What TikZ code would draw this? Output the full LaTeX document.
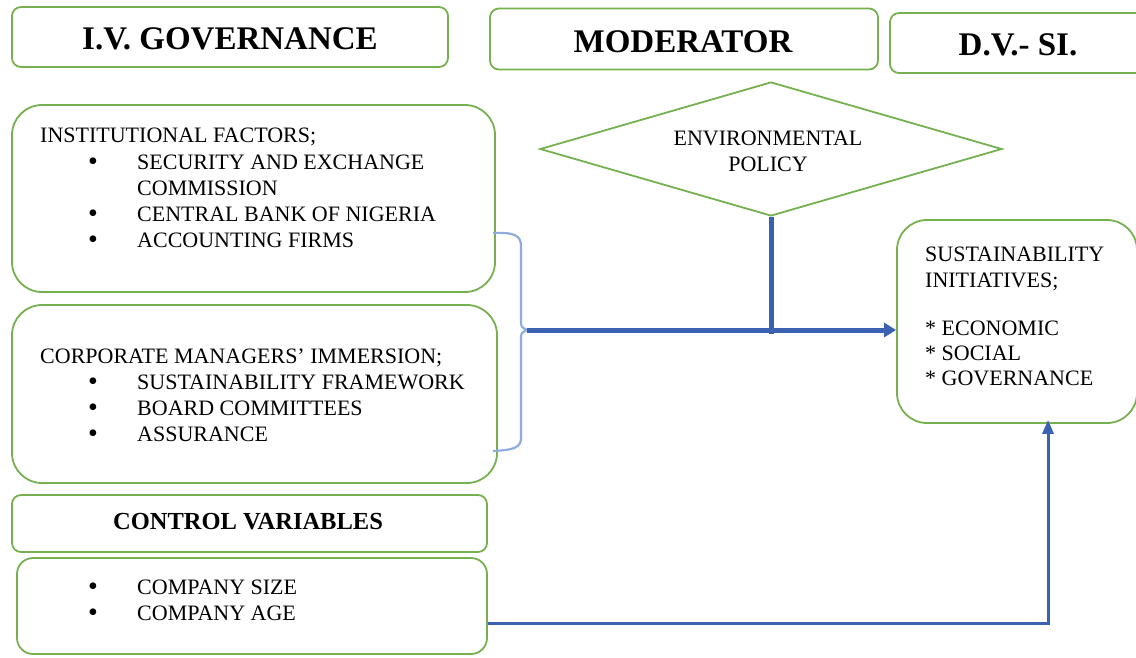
\documentclass[tikz,border=0pt]{standalone}
\usepackage{fontspec}
\setmainfont{Liberation Serif}
\usetikzlibrary{shapes.geometric,arrows.meta}
\definecolor{boxgreen}{RGB}{118,176,80}
\definecolor{flowblue}{RGB}{58,98,176}
\definecolor{braceblue}{RGB}{143,172,222}
\tikzset{
  box/.style={draw=boxgreen, line width=1.8pt, fill=white, inner sep=0pt},
  head/.style={font=\fontsize{33}{36}\selectfont\bfseries, inner sep=0pt},
  subhead/.style={font=\fontsize{24.5}{28}\selectfont\bfseries, inner sep=0pt},
  txt/.style={font=\fontsize{22}{26}\selectfont, inner sep=0pt, anchor=base west},
  bul/.style={font=\fontsize{28}{26}\selectfont, inner sep=0pt, anchor=base,
              text height=12pt, text depth=0pt},
  flow/.style={draw=flowblue, line width=5pt},
  thinflow/.style={draw=flowblue, line width=3pt},
  brace/.style={draw=braceblue, line width=2.2pt, line join=round}
}
\begin{document}
\begin{tikzpicture}[x=1pt,y=-1pt]
\clip (0,0) rectangle (1136,657);

% heading boxes
\node[box, rounded corners=9pt, minimum width=436pt, minimum height=60pt] (ivbox) at (230,37) {};
\node[head] (ivt) at (230,39) {I.V. GOVERNANCE};
\node[box, rounded corners=9pt, minimum width=388pt, minimum height=61pt] (modbox) at (684,39) {};
\node[head] (modt) at (683,42) {MODERATOR};
\node[box, rounded corners=9pt, minimum width=256pt, minimum height=60pt] (dvbox) at (1018,43) {};
\node[head] (dvt) at (1018,45) {D.V.- SI.};

% institutional factors
\node[box, rounded corners=30pt, minimum width=483pt, minimum height=187pt] (inst) at (253.5,198.5) {};
\node[txt] (i0) at (40,142) {INSTITUTIONAL FACTORS;};
\node[bul] (ib1) at (93,170) {\textbullet};
\node[txt] (i1) at (137,169) {SECURITY AND EXCHANGE};
\node[txt] (i2) at (137,195) {COMMISSION};
\node[bul] (ib3) at (93,222) {\textbullet};
\node[txt] (i3) at (137,221) {CENTRAL BANK OF NIGERIA};
\node[bul] (ib4) at (93,248) {\textbullet};
\node[txt] (i4) at (137,247) {ACCOUNTING FIRMS};

% corporate managers
\node[box, rounded corners=30pt, minimum width=485pt, minimum height=178pt] (corp) at (254.5,394) {};
\node[txt] (c0) at (40,363) {CORPORATE MANAGERS’ IMMERSION;};
\node[bul] (cb1) at (93,390) {\textbullet};
\node[txt] (c1) at (137,389) {SUSTAINABILITY FRAMEWORK};
\node[bul] (cb2) at (93,416) {\textbullet};
\node[txt] (c2) at (137,415) {BOARD COMMITTEES};
\node[bul] (cb3) at (93,442) {\textbullet};
\node[txt] (c3) at (137,441) {ASSURANCE};

% control variables
\node[box, rounded corners=9pt, minimum width=475pt, minimum height=57pt] (ctrl) at (249.5,523.5) {};
\node[subhead] (ctrlt) at (248,522) {CONTROL VARIABLES};
\node[box, rounded corners=16pt, minimum width=470pt, minimum height=96pt] (comp) at (252,606) {};
\node[bul] (kb1) at (93,595) {\textbullet};
\node[txt] (k1) at (137,594) {COMPANY SIZE};
\node[bul] (kb2) at (93,621) {\textbullet};
\node[txt] (k2) at (137,620) {COMPANY AGE};

% moderator diamond
\node[diamond, draw=boxgreen, line width=1.8pt, fill=white, inner sep=0pt,
      minimum width=462pt, minimum height=134pt, aspect=3.45] (env) at (771,149) {};
\node[font=\fontsize{22}{26}\selectfont, inner sep=0pt, align=center] (envt) at (768,151) {ENVIRONMENTAL\\POLICY};

% sustainability initiatives
\node[box, rounded corners=30pt, minimum width=240pt, minimum height=203pt] (sust) at (1017,321.5) {};
\node[txt] (s0) at (925,261) {SUSTAINABILITY};
\node[txt] (s1) at (925,287) {INITIATIVES;};
\node[txt] (s2) at (925,335) {* ECONOMIC};
\node[txt] (s3) at (925,360) {* SOCIAL};
\node[txt] (s4) at (925,385) {* GOVERNANCE};

% brace grouping the two governance blocks
\coordinate (btop) at (493,233);
\coordinate (bbot) at (493,451);
\coordinate (btip) at (527,330);
\draw[brace] (btop) .. controls (515,232) and (521,236) .. (521,246) -- (521,320)
  .. controls (521,327) .. (btip) .. controls (521,333) .. (521,340) -- (521,438)
  .. controls (521,447) and (515,450) .. (bbot);

% main flow into the dependent variable
\draw[flow, -{Triangle[length=12pt,width=14pt]}] (btip) -- (sust.west |- btip);
\coordinate (modjoin) at (771,334);
\draw[flow] (env.south) -- (modjoin);

% control variables path
\coordinate (ctrlcorner) at (1048,623);
\draw[thinflow, -{Triangle[length=14pt,width=11pt]}] (comp.east |- ctrlcorner) -- (ctrlcorner) -- ([yshift=4pt]ctrlcorner |- sust.south);
\end{tikzpicture}
\end{document}
